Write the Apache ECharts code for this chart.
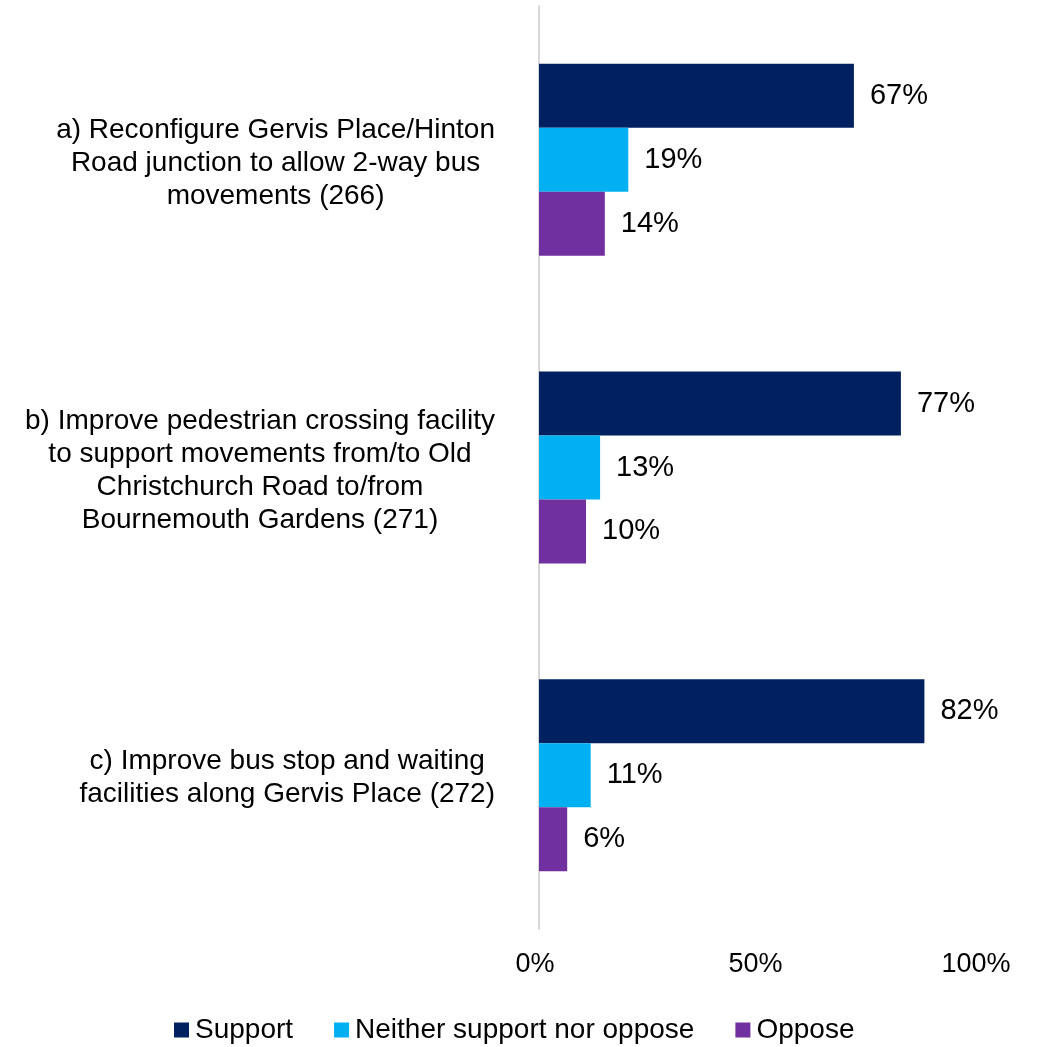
<!DOCTYPE html>
<html>
<head>
<meta charset="utf-8">
<script src="https://cdn.jsdelivr.net/npm/echarts@6/dist/echarts.min.js"></script>
<style>
  html, body { margin: 0; padding: 0; background: #fff; }
  #chart { width: 1064px; height: 1047px; }
</style>
</head>
<body>
<div id="chart"></div>
<script>
const categories = [
  'a) Reconfigure Gervis Place/Hinton\nRoad junction to allow 2-way bus\nmovements (266)',
  'b) Improve pedestrian crossing facility\nto support movements from/to Old\nChristchurch Road to/from\nBournemouth Gardens (271)',
  'c) Improve bus stop and waiting\nfacilities along Gervis Place (272)'
];
const seriesNames = ['Support', 'Neither support nor oppose', 'Oppose'];
const support = [67, 77, 82];
const neither = [19, 13, 11];
const oppose = [14, 10, 6];
const tickValues = [0, 50, 100];

const font = "'Liberation Sans', Arial, sans-serif";
const colors = ['#002060', '#00B0F0', '#7030A0'];

const chartDom = document.getElementById('chart');
const myChart = echarts.init(chartDom);

const barLabel = {
  show: true,
  position: 'right',
  distance: 16,
  formatter: '{c}%',
  fontSize: 29,
  fontFamily: font,
  color: '#000'
};

const option = {
  animation: false,
  color: colors,
  legend: {
    data: seriesNames,
    left: 174,
    top: 1016,
    padding: 0,
    itemWidth: 15,
    itemHeight: 15,
    itemGap: 41,
    icon: 'rect',
    textStyle: { fontSize: 28, fontFamily: font, color: '#000', padding: [0, 0, 0, 1] }
  },
  grid: [
    { left: 539, right: 55, top: 6, bottom: 118 },
    // only carries the tick labels, which sit a bit left of the bar scale
    { left: 535, right: 88, top: 6, bottom: 118 }
  ],
  xAxis: [
    {
      type: 'value',
      gridIndex: 0,
      min: 0,
      max: 100,
      interval: 50,
      axisLine: { show: false },
      axisTick: { show: false },
      axisLabel: { show: false },
      splitLine: { show: false }
    },
    {
      type: 'value',
      gridIndex: 1,
      min: tickValues[0],
      max: tickValues[tickValues.length - 1],
      interval: 50,
      axisLine: { show: false },
      axisTick: { show: false },
      splitLine: { show: false },
      axisLabel: {
        margin: 22,
        fontSize: 27,
        fontFamily: font,
        color: '#000',
        formatter: '{value}%'
      }
    }
  ],
  yAxis: [
    {
      type: 'category',
      gridIndex: 0,
      inverse: true,
      data: categories,
      axisLine: { show: true, lineStyle: { color: '#d9d9d9', width: 2 } },
      axisTick: { show: false },
      axisLabel: {
        margin: 44,
        padding: [6, 0, 0, 0],
        formatter: function (v) {
          return v.split('\n').map(l => '{c|' + l + '}').join('\n');
        },
        rich: {
          c: { align: 'center', fontSize: 28, lineHeight: 33, fontFamily: font, color: '#000' }
        }
      }
    },
    { type: 'value', gridIndex: 1, show: false }
  ],
  series: [
    { name: seriesNames[0], type: 'bar', data: support, barGap: '0%', barCategoryGap: '37.6%', label: barLabel },
    { name: seriesNames[1], type: 'bar', data: neither, barGap: '0%', barCategoryGap: '37.6%', label: barLabel },
    { name: seriesNames[2], type: 'bar', data: oppose, barGap: '0%', barCategoryGap: '37.6%', label: barLabel }
  ]
};

option && myChart.setOption(option);
</script>
</body>
</html>
